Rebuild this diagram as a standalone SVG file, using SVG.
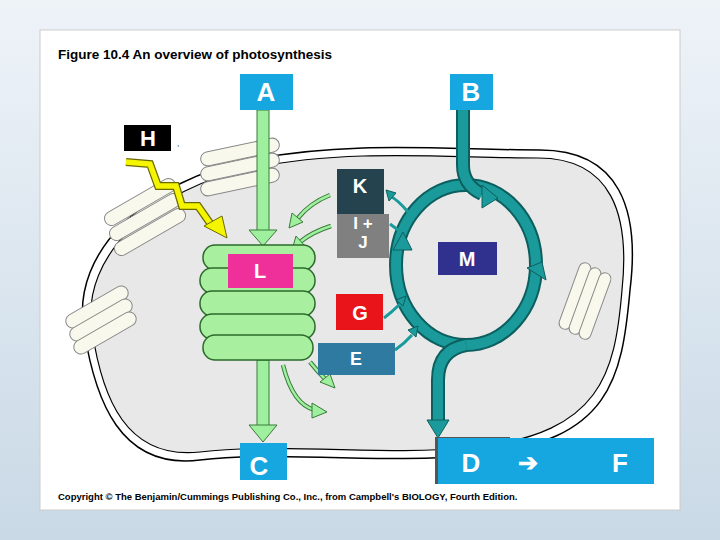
<svg xmlns="http://www.w3.org/2000/svg" width="720" height="540" viewBox="0 0 720 540">
<defs>
<linearGradient id="bg" x1="0" y1="0" x2="0" y2="1"><stop offset="0" stop-color="#eef3f8"/><stop offset="1" stop-color="#c9d9e6"/></linearGradient>
<style>
.lbl{font-family:"Liberation Sans",Arial,sans-serif;font-weight:bold;fill:#fff;text-anchor:middle}
.blue{fill:#16a6e0}
.thy{fill:#a8f0a0;stroke:#2a6a2a;stroke-width:1.5}
.teal{fill:none;stroke:#0d5f5f;stroke-width:14}
.teal2{fill:none;stroke:#1a9a9a;stroke-width:10}
.th{fill:#1a9a9a;stroke:#0d5f5f}
.tl{fill:none;stroke:#1a9a9a;stroke-width:3}
.gl{fill:none;stroke:#3a7a3a;stroke-width:4.5}
.gl2{fill:none;stroke:#9ef09e;stroke-width:2.5}
.gh{fill:#9ef09e;stroke:#3a7a3a}
</style>
</defs>
<rect width="720" height="540" fill="url(#bg)"/>
<rect x="40" y="30" width="640" height="480" fill="#fff" stroke="#ccc"/>
<text x="58" y="59" font-family="Liberation Sans,Arial,sans-serif" font-weight="bold" font-size="13.5">Figure 10.4  An overview of photosynthesis</text>
<g id="chloroplast">
<path d="M84,330 C70,250 150,180 250,160 C350,140 450,150 540,150 C620,150 640,210 630,290 C622,380 610,440 480,455 C380,465 280,450 200,460 C120,470 95,400 84,330 Z" fill="#fff" stroke="#000" stroke-width="1.5"/>
<path d="M92,330 C80,255 155,188 252,168 C350,148 450,158 538,158 C612,158 630,215 622,290 C615,375 600,432 478,447 C380,457 280,442 200,452 C126,460 102,398 92,330 Z" fill="#e8e8e8" stroke="#000" stroke-width="1.2"/>
<g fill="#f8f8ec" stroke="#888">
<rect x="200" y="145" width="80" height="14" rx="7" transform="rotate(-12 240 152)"/>
<rect x="200" y="160" width="80" height="14" rx="7" transform="rotate(-12 240 167)"/>
<rect x="200" y="175" width="80" height="14" rx="7" transform="rotate(-12 240 182)"/>
<rect x="100" y="195" width="80" height="14" rx="7" transform="rotate(-30 140 202)"/>
<rect x="105" y="210" width="80" height="14" rx="7" transform="rotate(-30 145 217)"/>
<rect x="110" y="225" width="80" height="14" rx="7" transform="rotate(-30 150 232)"/>
<rect x="62" y="300" width="70" height="14" rx="7" transform="rotate(-30 97 307)"/>
<rect x="66" y="313" width="70" height="14" rx="7" transform="rotate(-30 101 320)"/>
<rect x="70" y="326" width="70" height="14" rx="7" transform="rotate(-30 105 333)"/>
<rect x="540" y="290" width="70" height="12" rx="6" transform="rotate(-70 575 296)"/>
<rect x="550" y="295" width="70" height="12" rx="6" transform="rotate(-70 585 301)"/>
<rect x="560" y="300" width="70" height="12" rx="6" transform="rotate(-70 595 306)"/>
</g>
</g>
<g id="connectors">
<ellipse cx="466" cy="265" rx="70" ry="80" class="teal"/><ellipse cx="466" cy="265" rx="70" ry="80" class="teal2"/>
<path d="M463,110 L463,165 Q463,185 482,194" class="teal"/><path d="M463,110 L463,165 Q463,185 482,194" class="teal2"/>
<path d="M466,345 Q438,350 438,380 L438,425" class="teal"/><path d="M466,345 Q438,350 438,380 L438,425" class="teal2"/>
<path d="M427,420 L449,420 L438,438 Z" class="th"/>
<path d="M482,185 L498,198 L482,208 Z" class="th"/>
<path d="M527,268 L546,280 L542,262 Z" class="th"/>
<path d="M393,250 L403,232 L412,250 Z" class="th"/>
<path d="M408,212 Q398,200 390,196" class="tl"/><path d="M386,190 L396,193 L389,201 Z" class="th"/>
<path d="M398,230 L390,224" class="tl"/>
<path d="M384,318 Q392,312 400,304" class="tl"/><path d="M396,300 L406,296 L403,306 Z" class="th"/>
<path d="M395,350 Q405,343 412,335" class="tl"/><path d="M408,330 L418,326 L416,337 Z" class="th"/>
<path d="M331,226 Q312,232 300,242" class="gl"/><path d="M331,226 Q312,232 300,242" class="gl2"/><path d="M296,236 L292,250 L305,246 Z" class="gh"/>
<path d="M330,195 Q310,203 298,218" class="gl"/><path d="M330,195 Q310,203 298,218" class="gl2"/><path d="M292,213 L289,228 L303,222 Z" class="gh"/>
<path d="M310,362 Q318,372 326,380" class="gl"/><path d="M310,362 Q318,372 326,380" class="gl2"/><path d="M320,382 L335,388 L330,374 Z" class="gh"/>
<path d="M283,365 Q293,405 315,410" class="gl"/><path d="M283,365 Q293,405 315,410" class="gl2"/><path d="M312,403 L327,412 L312,418 Z" class="gh"/>
<rect x="257" y="110" width="12" height="125" fill="#9ef09e" stroke="#3a7a3a"/>
<path d="M249,230 L277,230 L263,246 Z" class="gh"/>
<rect x="257" y="360" width="12" height="70" fill="#9ef09e" stroke="#3a7a3a"/>
<path d="M249,425 L277,425 L263,442 Z" class="gh"/>
<polyline points="126,162 150,164 158,186 176,186 182,206 198,206 212,226" fill="none" stroke="#6a6a00" stroke-width="8" stroke-linejoin="miter"/>
<polyline points="126,162 150,164 158,186 176,186 182,206 198,206 212,226" fill="none" stroke="#f5f500" stroke-width="5.5" stroke-linejoin="miter"/>
<path d="M204,226 L222,216 L227,238 Z" fill="#f5f500" stroke="#6a6a00"/>
</g>
<g id="L">
<g class="thy">
<rect x="203" y="245" width="112" height="25" rx="12"/>
<rect x="200" y="268" width="115" height="25" rx="12"/>
<rect x="200" y="291" width="115" height="25" rx="12"/>
<rect x="200" y="314" width="115" height="25" rx="12"/>
<rect x="203" y="335" width="110" height="25" rx="12"/>
</g>
<rect x="228" y="254" width="65" height="34" fill="#f0309a"/><text class="lbl" x="260" y="278" font-size="20">L</text>
</g>
<g id="A"><rect class="blue" x="240" y="74" width="53" height="36"/><text class="lbl" x="266" y="101" font-size="26">A</text></g>
<g id="B"><rect class="blue" x="450" y="74" width="43" height="36"/><text class="lbl" x="471" y="101" font-size="26">B</text></g>
<g id="C"><rect class="blue" x="240" y="443" width="47" height="37"/><text class="lbl" x="259" y="475" font-size="26">C</text></g>
<g id="H"><rect x="124" y="125" width="47" height="26" fill="#000"/><text class="lbl" x="148" y="146" font-size="22">H</text><text x="177" y="146" font-family="Liberation Sans,Arial,sans-serif" font-size="8">,</text></g>
<g id="K"><rect x="337" y="169" width="47" height="45" fill="#24434f"/><text class="lbl" x="360" y="193" font-size="20">K</text></g>
<g id="IJ"><rect x="337" y="214" width="52" height="44" fill="#808080"/><text class="lbl" x="363" y="229" font-size="17">I +</text><text class="lbl" x="363" y="248" font-size="17">J</text></g>
<g id="M"><rect x="438" y="242" width="59" height="33" fill="#30308e"/><text class="lbl" x="467" y="266" font-size="20">M</text></g>
<g id="G"><rect x="336" y="294" width="47" height="36" fill="#e8141a"/><text class="lbl" x="360" y="320" font-size="20">G</text></g>
<g id="E"><rect x="318" y="343" width="77" height="32" fill="#2e7aa0"/><text class="lbl" x="356" y="365" font-size="18">E</text></g>
<g id="DF"><rect x="435" y="437" width="75" height="47" fill="#555"/><rect class="blue" x="438" y="438" width="216" height="46"/><text class="lbl" x="471" y="472" font-size="26">D</text><text class="lbl" x="528" y="471" font-size="24" font-family="DejaVu Sans,sans-serif">➔</text><text class="lbl" x="620" y="472" font-size="26">F</text></g>
<text x="58" y="500" font-family="Liberation Sans,Arial,sans-serif" font-weight="bold" font-size="9.5">Copyright © The Benjamin/Cummings Publishing Co., Inc., from Campbell's BIOLOGY, Fourth Edition.</text>
</svg>
